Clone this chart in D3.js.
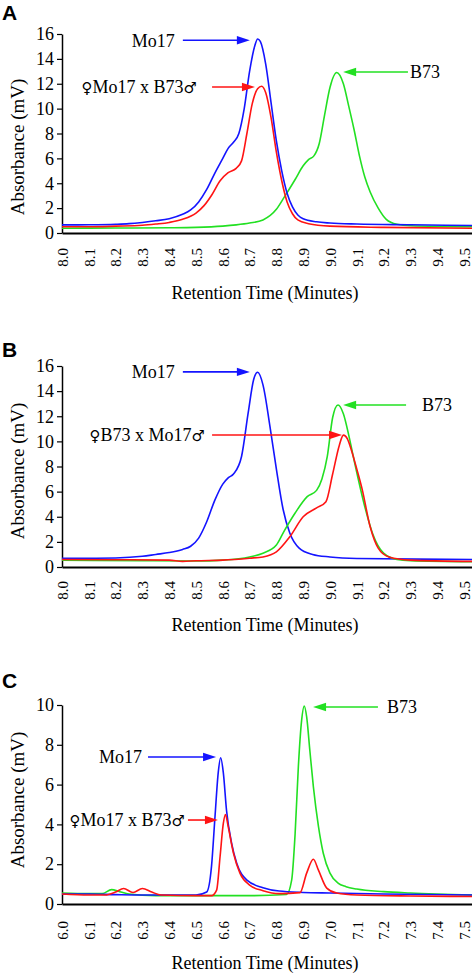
<!DOCTYPE html>
<html><head><meta charset="utf-8">
<script src="https://cdn.jsdelivr.net/npm/d3@7"></script>
<style>html,body{margin:0;padding:0;background:#fff;}svg{display:block;}
svg text{font-family:"Liberation Serif","Times New Roman",serif;}
svg text.letter{font-family:"Liberation Sans",Arial,sans-serif;font-weight:bold;}
svg tspan.sym{font-family:"DejaVu Sans",sans-serif;}
</style>
</head><body>
<script>
// ---------- data ----------
const xTicksAB = [8.0,8.1,8.2,8.3,8.4,8.5,8.6,8.7,8.8,8.9,9.0,9.1,9.2,9.3,9.4,9.5];
const xTicksC  = [6.0,6.1,6.2,6.3,6.4,6.5,6.6,6.7,6.8,6.9,7.0,7.1,7.2,7.3,7.4,7.5];
const yTicksAB = [0,2,4,6,8,10,12,14,16];
const yTicksC  = [0,2,4,6,8,10];

const aMo17 = [[8.0,0.65],[8.1,0.66],[8.2,0.7],[8.25,0.75],[8.3,0.85],[8.35,0.98],[8.4,1.15],[8.45,1.5],[8.48,1.85],[8.51,2.5],[8.54,3.5],[8.57,4.8],[8.6,6.0],[8.62,6.8],[8.64,7.3],[8.66,8.0],[8.68,10.0],[8.70,13.0],[8.72,15.1],[8.73,15.6],[8.74,15.4],[8.76,13.6],[8.78,10.5],[8.80,7.4],[8.82,5.0],[8.84,3.2],[8.86,2.1],[8.88,1.45],[8.9,1.15],[8.95,0.9],[9.0,0.8],[9.1,0.72],[9.3,0.66],[9.53,0.6]];
const aHybrid = [[8.0,0.5],[8.1,0.5],[8.2,0.55],[8.3,0.62],[8.35,0.72],[8.4,0.85],[8.45,1.1],[8.5,1.6],[8.53,2.2],[8.56,3.1],[8.59,4.2],[8.62,4.85],[8.65,5.2],[8.67,5.8],[8.69,8.0],[8.71,10.4],[8.73,11.6],[8.745,11.8],[8.76,11.3],[8.78,9.3],[8.80,6.5],[8.82,4.2],[8.84,2.5],[8.86,1.55],[8.88,1.05],[8.92,0.75],[9.0,0.55],[9.2,0.45],[9.53,0.38]];
const aB73 = [[8.0,0.38],[8.2,0.4],[8.4,0.42],[8.5,0.45],[8.6,0.55],[8.65,0.65],[8.7,0.8],[8.75,1.05],[8.8,1.9],[8.83,2.9],[8.87,4.3],[8.9,5.4],[8.92,5.9],[8.94,6.2],[8.96,7.2],[8.98,9.5],[9.0,11.7],[9.025,12.9],[9.05,12.0],[9.07,10.2],[9.09,8.3],[9.11,6.2],[9.13,4.5],[9.15,3.3],[9.18,2.0],[9.21,1.1],[9.25,0.7],[9.3,0.58],[9.53,0.5]];

const bMo17 = [[8.0,0.7],[8.1,0.7],[8.2,0.72],[8.3,0.85],[8.35,1.0],[8.4,1.15],[8.45,1.4],[8.48,1.65],[8.51,2.3],[8.54,3.6],[8.57,5.3],[8.6,6.6],[8.62,7.1],[8.64,7.4],[8.67,8.8],[8.695,12.3],[8.715,14.9],[8.73,15.5],[8.75,14.5],[8.776,11.2],[8.8,7.8],[8.825,4.6],[8.85,2.7],[8.885,1.5],[8.935,1.0],[9.0,0.8],[9.1,0.68],[9.53,0.6]];
const bB73 = [[8.0,0.55],[8.3,0.5],[8.5,0.48],[8.6,0.55],[8.7,0.8],[8.75,1.1],[8.8,1.75],[8.83,2.9],[8.87,4.3],[8.915,5.6],[8.95,6.1],[8.97,7.0],[8.99,8.8],[9.01,11.9],[9.03,12.9],[9.05,12.2],[9.07,10.5],[9.09,8.5],[9.13,4.8],[9.16,2.6],[9.2,1.1],[9.25,0.6],[9.3,0.5],[9.53,0.42]];
const bHybrid = [[8.0,0.6],[8.2,0.58],[8.4,0.55],[8.45,0.45],[8.5,0.5],[8.6,0.55],[8.7,0.7],[8.75,0.8],[8.8,1.2],[8.85,2.4],[8.9,4.0],[8.95,4.7],[8.985,5.2],[9.01,7.4],[9.035,9.7],[9.05,10.5],[9.065,10.2],[9.08,9.3],[9.1,7.8],[9.12,6.2],[9.15,3.2],[9.18,1.5],[9.22,0.8],[9.3,0.55],[9.53,0.45]];

const cMo17 = [[6.0,0.5],[6.1,0.5],[6.2,0.47],[6.3,0.45],[6.4,0.45],[6.5,0.45],[6.54,0.6],[6.558,1.9],[6.571,4.4],[6.583,6.6],[6.592,7.35],[6.602,6.6],[6.614,4.7],[6.633,3.05],[6.652,2.05],[6.69,1.2],[6.75,0.82],[6.81,0.65],[6.9,0.58],[7.0,0.55],[7.2,0.5],[7.53,0.45]];
const cHybrid = [[6.0,0.5],[6.1,0.45],[6.16,0.45],[6.2,0.6],[6.23,0.78],[6.265,0.58],[6.3,0.78],[6.335,0.6],[6.37,0.45],[6.5,0.42],[6.558,0.42],[6.577,0.7],[6.59,2.4],[6.602,4.05],[6.61,4.5],[6.62,3.9],[6.64,2.55],[6.664,1.55],[6.70,0.95],[6.75,0.67],[6.81,0.52],[6.888,0.57],[6.913,1.55],[6.938,2.25],[6.957,1.7],[6.988,0.8],[7.025,0.55],[7.1,0.45],[7.3,0.4],[7.53,0.38]];
const cB73 = [[6.0,0.55],[6.1,0.52],[6.15,0.52],[6.185,0.72],[6.215,0.62],[6.25,0.5],[6.35,0.42],[6.5,0.42],[6.7,0.42],[6.838,0.48],[6.857,1.2],[6.87,3.55],[6.882,6.9],[6.894,9.2],[6.904,9.95],[6.913,9.4],[6.925,7.7],[6.938,5.9],[6.957,3.9],[6.975,2.55],[7.0,1.55],[7.03,1.05],[7.06,0.87],[7.1,0.75],[7.2,0.62],[7.3,0.55],[7.53,0.45]];

// annotations: label, arrow tail time, arrow tip time, value, text side, text gap, colour
const aNotes = [["Mo17",8.451,8.701,15.5,"left",8,"blue"],["♀Mo17 x B73♂",8.56,8.72,11.74,"left",15,"red"],["B73",9.291,9.049,12.94,"right",2,"green"]];
const bNotes = [["Mo17",8.451,8.701,15.53,"left",8,"blue"],["♀B73 x Mo17♂",8.56,9.045,10.51,"left",7,"red"],["B73",9.284,9.049,12.9,"right",16,"green"]];
const cNotes = [["Mo17",6.321,6.575,7.39,"left",6,"blue"],["♀Mo17 x B73♂",6.47,6.582,4.22,"left",3,"red"],["B73",7.179,6.937,9.9,"right",9,"green"]];

const colors = {blue:"#1414ff", red:"#ff1414", green:"#22e022"};

// ---------- drawing ----------
const W = 472, H = 973;
const svg = d3.select("body").append("svg").attr("width",W).attr("height",H);

const panels = [
  {letter:"A", letterY:20, x0:8.0, x1:9.53, yMax:16, top:34, bottom:233, xt:xTicksAB, yt:yTicksAB, labOff:15, titleY:293, yTitleC:147,
   series:[[aB73,"green"],[aHybrid,"red"],[aMo17,"blue"]], notes:aNotes},
  {letter:"B", letterY:357, x0:8.0, x1:9.53, yMax:16, top:366, bottom:567, xt:xTicksAB, yt:yTicksAB, labOff:14, titleY:625, yTitleC:471,
   series:[[bMo17,"blue"],[bB73,"green"],[bHybrid,"red"]], notes:bNotes},
  {letter:"C", letterY:688, x0:6.0, x1:7.53, yMax:10, top:705, bottom:904, xt:xTicksC, yt:yTicksC, labOff:17, titleY:963, yTitleC:800,
   series:[[cB73,"green"],[cMo17,"blue"],[cHybrid,"red"]], notes:cNotes}
];

panels.forEach(p => {
  const g = svg.append("g");
  const x = d3.scaleLinear().domain([p.x0,p.x1]).range([62,472]);
  const y = d3.scaleLinear().domain([0,p.yMax]).range([p.bottom,p.top]);

  g.append("text").attr("class","letter").attr("x",2).attr("y",p.letterY).text(p.letter).style("font-size","21px");

  // y axis
  const ya = g.append("g").attr("transform","translate(62,0)")
    .call(d3.axisLeft(y).tickValues(p.yt).tickSize(5).tickSizeOuter(0).tickFormat(d3.format("d")));
  ya.attr("font-family",null).attr("font-size",null);
  ya.select(".domain").attr("stroke","#000").attr("stroke-width",1.5);
  ya.selectAll(".tick line").attr("stroke","#000").attr("stroke-width",1.2);
  ya.selectAll(".tick text").style("font-size","18px").attr("fill","#000").attr("x",-8);

  // x axis
  const xa = g.append("g").attr("transform",`translate(0,${p.bottom})`)
    .call(d3.axisBottom(x).tickValues(p.xt).tickSize(0).tickSizeOuter(0).tickFormat(d3.format(".1f")));
  xa.attr("font-family",null).attr("font-size",null);
  xa.select(".domain").attr("stroke","#000").attr("stroke-width",2);
  xa.selectAll(".tick text").style("font-size","15px").attr("fill","#000")
    .attr("transform","rotate(-90)").attr("text-anchor","end").attr("x",-p.labOff).attr("y",0).attr("dy","0.35em");

  // titles
  g.append("text").attr("x",265).attr("y",p.titleY).attr("text-anchor","middle").attr("dy","0.35em")
    .style("font-size","18px").text("Retention Time (Minutes)");
  g.append("text").attr("transform",`translate(24,${p.yTitleC}) rotate(-90)`).attr("text-anchor","middle")
    .style("font-size","19px").text("Absorbance (mV)");

  // curves
  const line = d3.line().x(d=>x(d[0])).y(d=>y(d[1])).curve(d3.curveMonotoneX);
  p.series.forEach(([data,c]) => {
    g.append("path").datum(data).attr("d",line).attr("fill","none")
      .attr("stroke",colors[c]).attr("stroke-width",1.6).attr("stroke-linejoin","round");
  });

  // annotations
  p.notes.forEach(([label,t0,t1,v,side,gap,c]) => {
    const xs = x(t0), xe = x(t1), yy = y(v);
    const dir = Math.sign(xe-xs);
    const hl = 13, hw = 4.2;
    g.append("line").attr("x1",xs).attr("y1",yy).attr("x2",xe-dir*hl*0.8).attr("y2",yy)
      .attr("stroke",colors[c]).attr("stroke-width",1.6);
    g.append("path").attr("d",`M${xe},${yy}L${xe-dir*hl},${yy-hw}L${xe-dir*hl},${yy+hw}Z`).attr("fill",colors[c]);
    const t = g.append("text").attr("x", side==="left" ? xs-gap : xs+gap).attr("y",yy).attr("dy","0.35em")
      .attr("text-anchor", side==="left" ? "end" : "start")
      .style("font-size","18px");
    label.split(/([♀♂])/).filter(s=>s.length).forEach(part => {
      const ts = t.append("tspan").text(part);
      if (part==="♀"||part==="♂") ts.attr("class","sym").style("font-size","15px");
    });
  });
});
</script>
</body></html>
